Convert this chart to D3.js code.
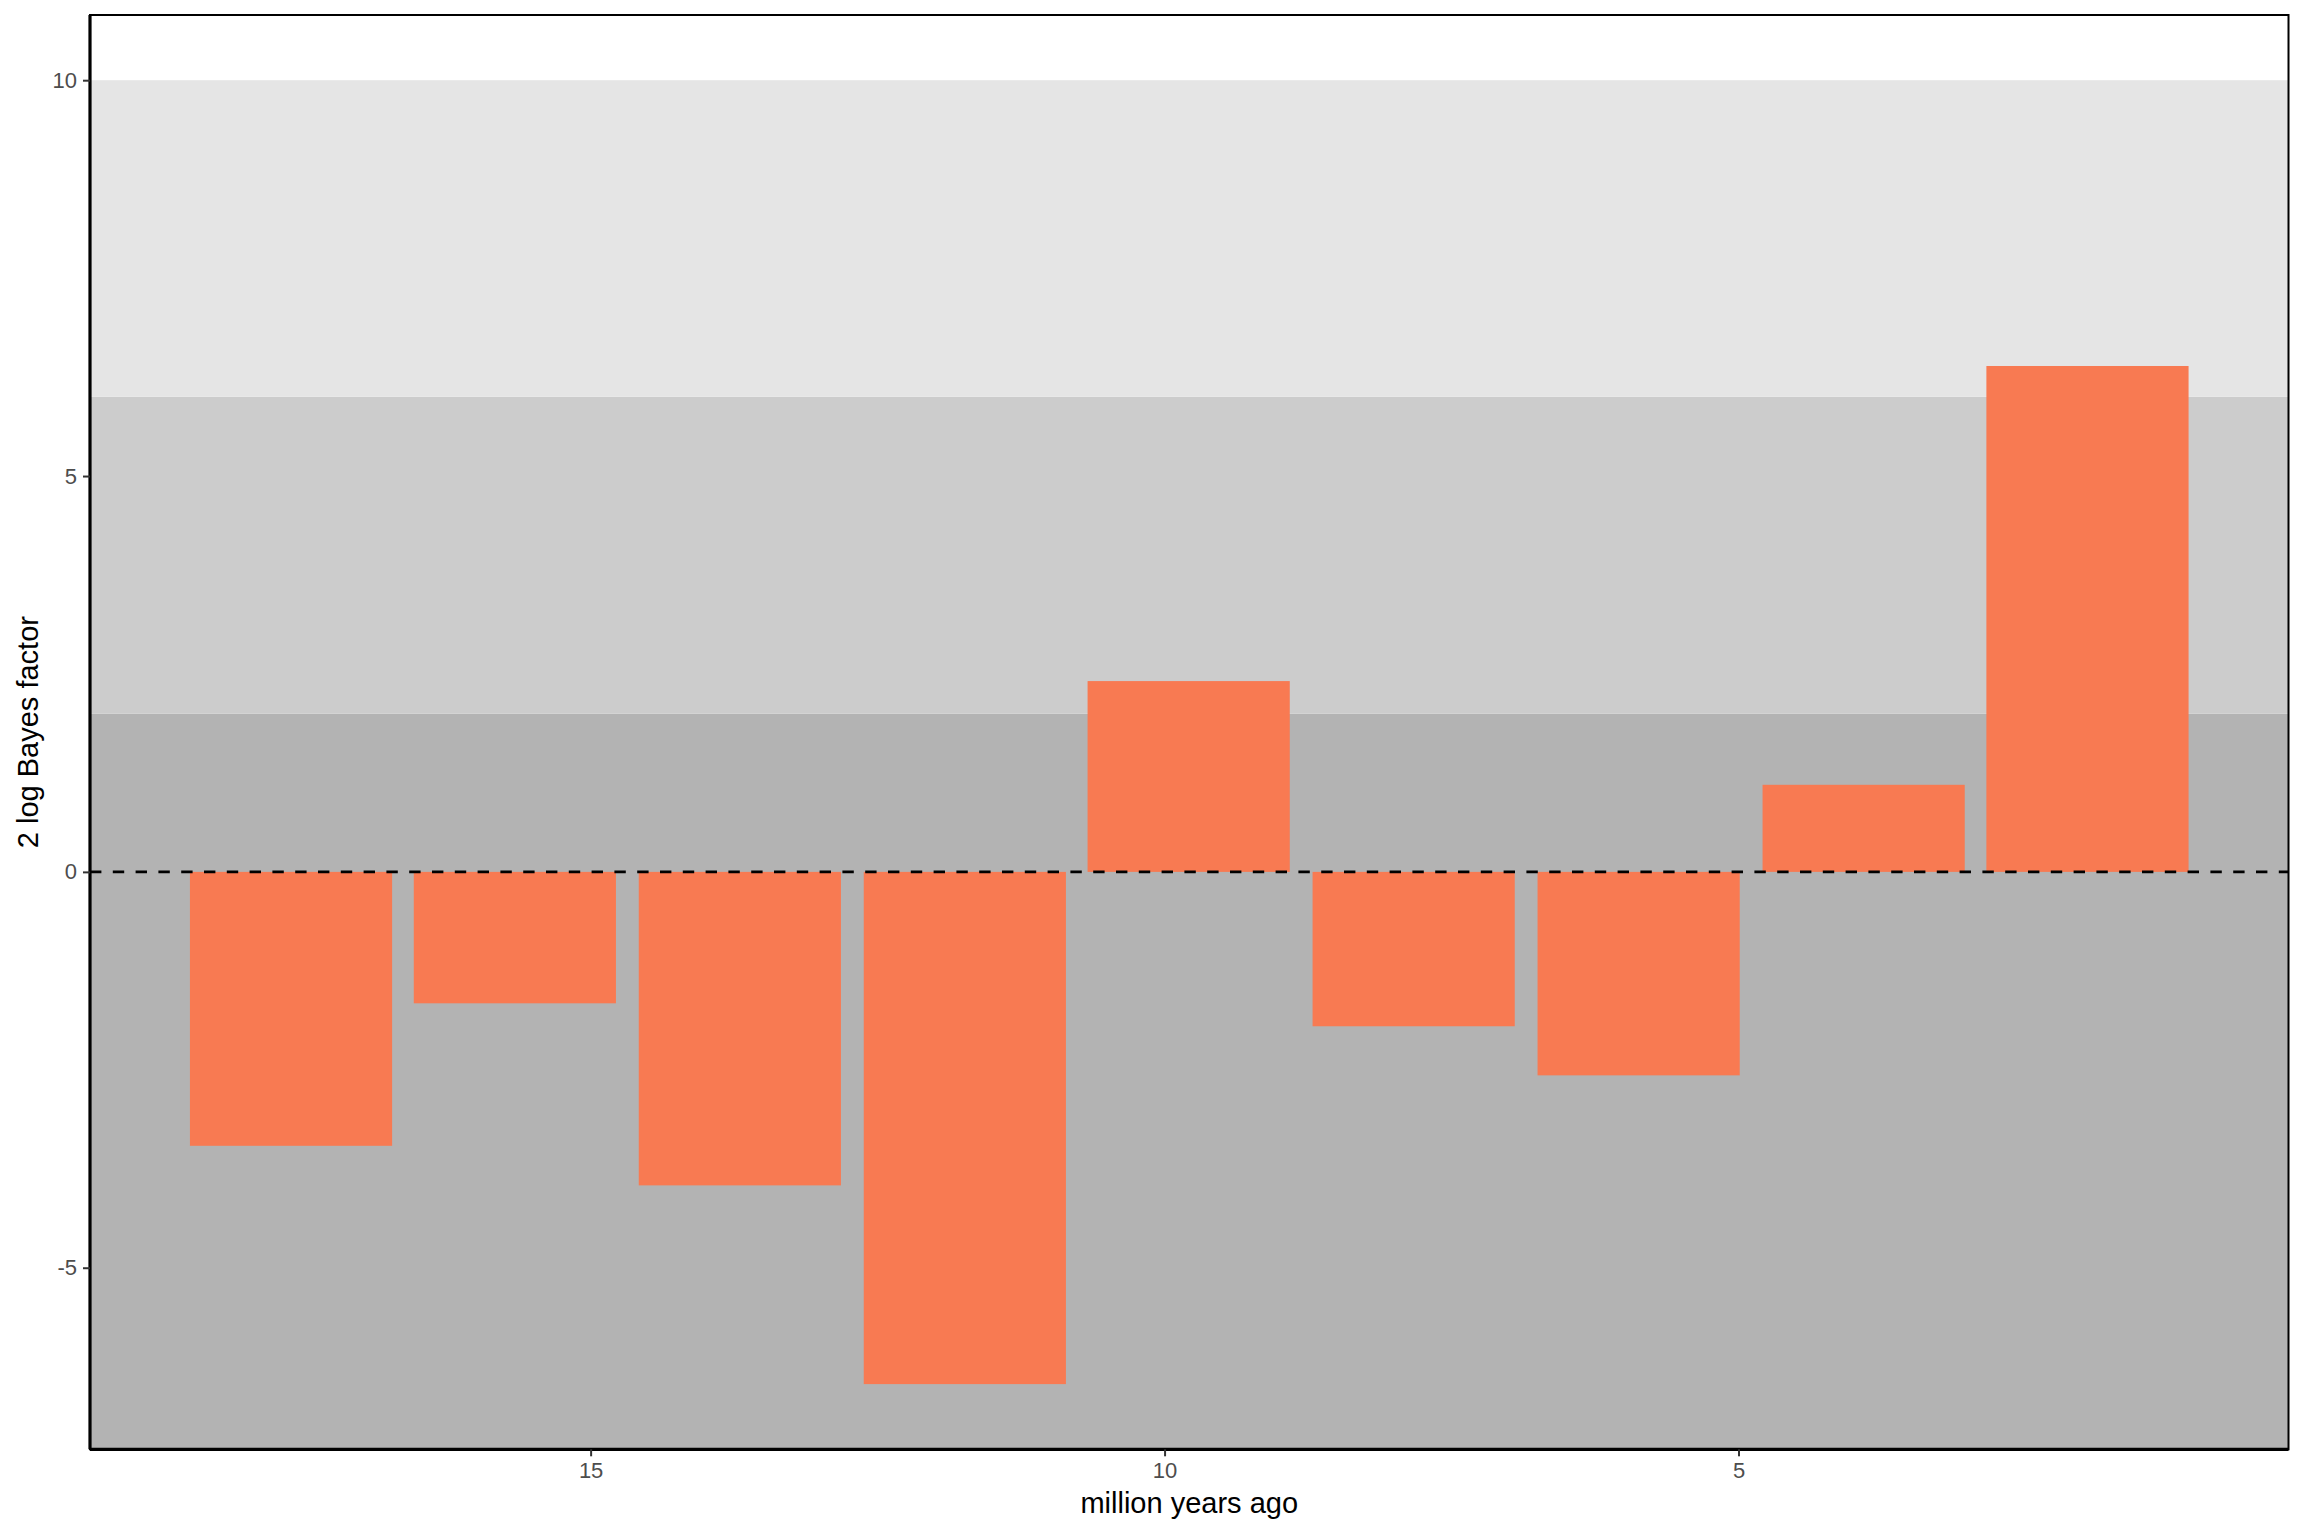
<!DOCTYPE html>
<html>
<head>
<meta charset="utf-8">
<script src="https://cdn.jsdelivr.net/npm/d3@7"></script>
<style>
  html, body { margin: 0; padding: 0; background: #ffffff; }
  svg { display: block; }
  text { font-family: "Liberation Sans", Arial, Helvetica, sans-serif; }
</style>
</head>
<body>
<svg id="chart" width="2304" height="1536"></svg>
<script>
// ---- data ----
const times = [17.61, 15.66, 13.70, 11.74, 9.79, 7.83, 5.87, 3.91, 1.96];   // million years ago (bin centres)
const bayesFactor = [-3.46, -1.66, -3.96, -6.47, 2.41, -1.95, -2.57, 1.10, 6.39]; // 2 log Bayes factor
const binWidth = 1.957;
const bandLower = [-Infinity, 2, 6];
const bandUpper = [2, 6, 10];
const xTicks = [15, 10, 5];
const yTicks = [-5, 0, 5, 10];
const xTickLabels = ["15", "10", "5"];
const yTickLabels = ["-5", "0", "5", "10"];
const xTitle = "million years ago";
const yTitle = "2 log Bayes factor";

// ---- styles ----
const bandColors = ["#b3b3b3", "#cccccc", "#e5e5e5"];
const barColor = "#f87a52";

const W = 2304, H = 1536;
const margin = { left: 90, right: W - 2288.5, top: 15, bottom: H - 1449.3 };
const pw = W - margin.left - margin.right;
const ph = H - margin.top - margin.bottom;

const svg = d3.select("#chart");
const g = svg.append("g").attr("transform", `translate(${margin.left},${margin.top})`);

// x domain: bars ±0.45*binWidth, then 5% expansion (reversed axis)
const barW = 0.9 * binWidth;
const xmin = d3.min(times) - barW / 2, xmax = d3.max(times) + barW / 2;
const xexp = (xmax - xmin) * 0.05;
const x = d3.scaleLinear().domain([xmax + xexp, xmin - xexp]).range([0, pw]);

const ymin = Math.min(d3.min(bayesFactor), d3.min(bandLower.filter(isFinite)));
const ymax = Math.max(d3.max(bayesFactor), d3.max(bandUpper));
const yexp = (ymax - ymin) * 0.05;
const y = d3.scaleLinear().domain([ymin - yexp, ymax + yexp]).range([ph, 0]);

const clampY = v => isFinite(v) ? y(v) : (v < 0 ? ph : 0);

// bands
g.selectAll("rect.band").data(d3.range(bandLower.length)).join("rect")
  .attr("class", "band")
  .attr("x", 0).attr("width", pw)
  .attr("y", i => clampY(bandUpper[i]))
  .attr("height", i => clampY(bandLower[i]) - clampY(bandUpper[i]))
  .attr("fill", i => bandColors[i]);

// bars
g.selectAll("rect.bar").data(times.map((t, i) => ({ t, v: bayesFactor[i] }))).join("rect")
  .attr("class", "bar")
  .attr("x", d => x(d.t + barW / 2))
  .attr("width", d => x(d.t - barW / 2) - x(d.t + barW / 2))
  .attr("y", d => y(Math.max(0, d.v)))
  .attr("height", d => Math.abs(y(d.v) - y(0)))
  .attr("fill", barColor);

// dashed zero line
g.append("line")
  .attr("x1", 0).attr("x2", pw)
  .attr("y1", y(0)).attr("y2", y(0))
  .attr("stroke", "#000").attr("stroke-width", 2.8)
  .attr("stroke-dasharray", "11.4,11.4");

// panel border
g.append("rect").attr("x", 0).attr("y", 0).attr("width", pw).attr("height", ph)
  .attr("fill", "none").attr("stroke", "#000").attr("stroke-width", 2);

// axes
const xAxis = d3.axisBottom(x).tickValues(xTicks)
  .tickFormat((d, i) => xTickLabels[i]).tickSize(7).tickPadding(6);
const yAxis = d3.axisLeft(y).tickValues(yTicks)
  .tickFormat((d, i) => yTickLabels[i]).tickSize(7).tickPadding(6);

const gx = g.append("g").attr("transform", `translate(0,${ph})`).call(xAxis);
const gy = g.append("g").call(yAxis);

[gx, gy].forEach(a => {
  a.select(".domain").attr("stroke", "#000").attr("stroke-width", 3.2);
  a.selectAll(".tick line").attr("stroke", "#333333").attr("stroke-width", 2);
  a.selectAll(".tick text").attr("fill", "#4d4d4d").attr("font-size", 22)
    .attr("font-family", '"Liberation Sans", Arial, Helvetica, sans-serif');
});
gy.select(".domain").attr("d", `M0,${ph}V0`);
gx.select(".domain").attr("d", `M0,0H${pw}`);

// titles
svg.append("text")
  .attr("x", margin.left + pw / 2).attr("y", 1512.5)
  .attr("text-anchor", "middle").attr("font-size", 29).attr("fill", "#000")
  .text(xTitle);

svg.append("text")
  .attr("transform", `translate(37.5,${margin.top + ph / 2}) rotate(-90)`)
  .attr("text-anchor", "middle").attr("font-size", 29).attr("fill", "#000")
  .text(yTitle);
</script>
</body>
</html>
